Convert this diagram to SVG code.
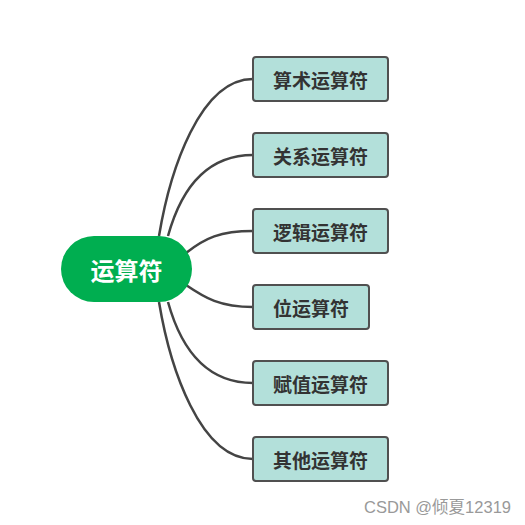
<svg xmlns="http://www.w3.org/2000/svg" width="525" height="525" viewBox="0 0 525 525">
<style>
.box{fill:#b3e0da;stroke:#505050;stroke-width:2}
.bt{font-family:"Noto Sans CJK SC","Noto Sans",sans-serif;font-weight:bold;font-size:19px;fill:#333;text-anchor:middle;dominant-baseline:central}
.link{fill:none;stroke:#444;stroke-width:2.5}
</style>
<rect width="525" height="525" fill="#fff"/>
<g id="connectors">
<path class="link" d="M159,236 C170,170 200,79 253,79"/>
<path class="link" d="M168,236 C178,200 200,155 253,155"/>
<path class="link" d="M186,253 C205,238 220,231 253,231"/>
<path class="link" d="M186,285 C205,298 220,307 253,307"/>
<path class="link" d="M168,302 C178,338 200,383 253,383"/>
<path class="link" d="M159,302 C170,368 200,459 253,459"/>
</g>
<g id="root">
<rect x="61" y="236" width="131" height="66" rx="33" fill="#00ae50"/>
<text x="126.5" y="269" style="font-family:'Noto Sans CJK SC','Noto Sans',sans-serif;font-weight:bold;font-size:24px;fill:#fff;text-anchor:middle;dominant-baseline:central">运算符</text>
</g>
<g id="n1"><rect class="box" x="253" y="57" width="135" height="44" rx="3"/><text class="bt" x="320.5" y="79">算术运算符</text></g>
<g id="n2"><rect class="box" x="253" y="133" width="135" height="44" rx="3"/><text class="bt" x="320.5" y="155">关系运算符</text></g>
<g id="n3"><rect class="box" x="253" y="209" width="135" height="44" rx="3"/><text class="bt" x="320.5" y="231">逻辑运算符</text></g>
<g id="n4"><rect class="box" x="253" y="285" width="116" height="44" rx="3"/><text class="bt" x="311" y="307">位运算符</text></g>
<g id="n5"><rect class="box" x="253" y="361" width="135" height="44" rx="3"/><text class="bt" x="320.5" y="383">赋值运算符</text></g>
<g id="n6"><rect class="box" x="253" y="437" width="135" height="44" rx="3"/><text class="bt" x="320.5" y="459">其他运算符</text></g>
<text x="511" y="507" style="font-family:'Liberation Sans','Noto Sans CJK SC',sans-serif;font-size:16.5px;fill:#999;text-anchor:end;dominant-baseline:central">CSDN @倾夏12319</text>
</svg>
